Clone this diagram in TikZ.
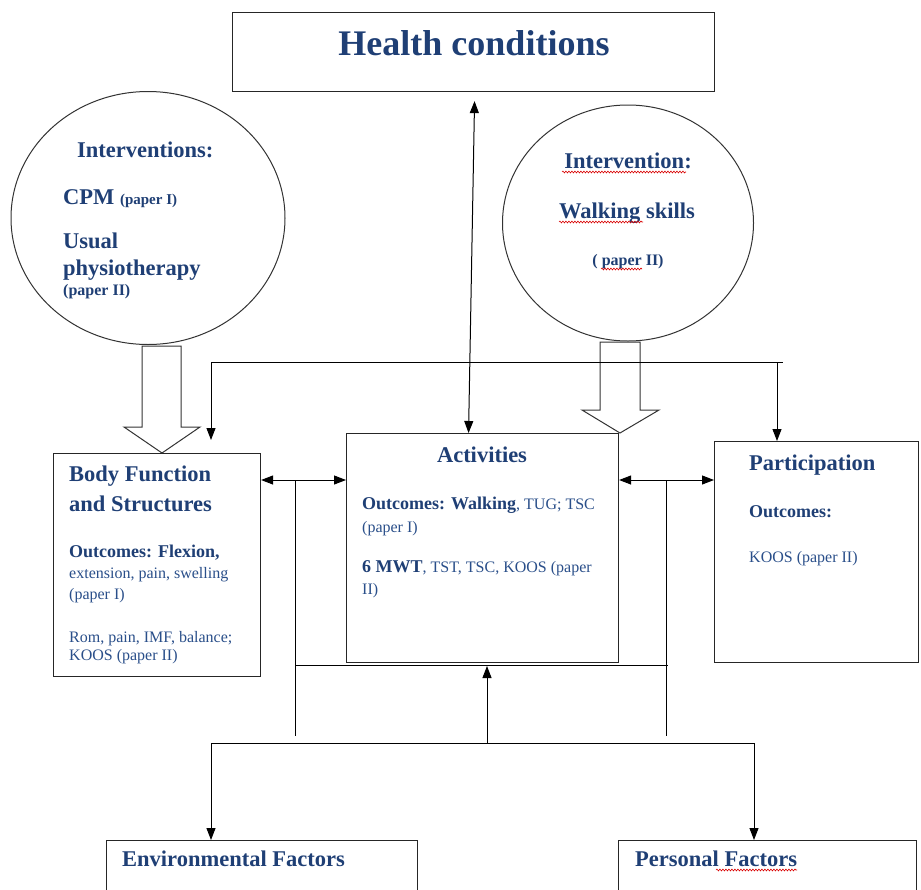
\documentclass[tikz,border=0pt]{standalone}
\usepackage{fontspec}
\setmainfont{Liberation Serif}
\usetikzlibrary{arrows.meta,decorations.pathmorphing,calc}
\definecolor{titleblue}{HTML}{1F3F75}
\definecolor{txtblue}{HTML}{2A4F8A}
\newcommand{\fsz}[1]{\fontsize{#1}{#1}\selectfont}
\begin{document}
\begin{tikzpicture}[x=1pt,y=-1pt,
  box/.style={draw=black!85,line width=1.1pt,rectangle,inner sep=0pt,anchor=north west},
  ell/.style={draw=black!80,line width=1pt},
  blockarrow/.style={draw=black!80,line width=1pt,line join=miter},
  conn/.style={draw=black,line width=1pt},
  tip/.style={-{Triangle[length=12pt,width=9pt]}},
  dbl/.style={{Triangle[length=12pt,width=9pt]}-{Triangle[length=12pt,width=9pt]}},
  ttl/.style={inner sep=0pt,text=titleblue,font=\bfseries\fsz{22.5}},
  sub/.style={inner sep=0pt,text=titleblue,font=\bfseries\fsz{18}},
  reg/.style={inner sep=0pt,text=txtblue,font=\fsz{16}},
  squig/.style={draw=red!85!black,line width=0.6pt,decorate,decoration={snake,amplitude=0.9pt,segment length=3pt}}
]
\useasboundingbox (0,0) rectangle (921,889);
\fill[white] (0,0) rectangle (921,889);

% boxes
\node[box,minimum width=482pt,minimum height=79pt] (hc) at (232,12) {};
\node[box,minimum width=207pt,minimum height=223pt] (body) at (53,453) {};
\node[box,minimum width=272pt,minimum height=229pt] (act) at (346,433) {};
\node[box,minimum width=204pt,minimum height=221pt] (part) at (714,441) {};
\node[box,minimum width=311pt,minimum height=70pt] (env) at (106,840) {};
\node[box,minimum width=298pt,minimum height=70pt] (pers) at (618,840) {};

% ellipses
\draw[ell] (148,218) ellipse [x radius=137, y radius=126.5];
\node[inner sep=0pt,minimum width=274pt,minimum height=253pt] (lc) at (148,218) {};
\draw[ell] (628,223) ellipse [x radius=125.5, y radius=118];
\node[inner sep=0pt,minimum width=251pt,minimum height=236pt] (rc) at (628,223) {};

% block arrows
\draw[blockarrow] (142,346) -- (142,427) -- (124,427) -- (162,453) -- (200,427) -- (181,427) -- (181,346) -- cycle;
\draw[blockarrow] (600,342) -- (600,410) -- (582,410) -- (620,433) -- (659,410) -- (640,410) -- (640,342) -- cycle;

% named coordinates
\coordinate (topL) at (211,362);
\coordinate (topR) at (783,362);
\coordinate (topRd) at (777,362);
\coordinate (vl) at (295,480);
\coordinate (vr) at (666,480);
\coordinate (vlb) at (295,736);
\coordinate (vrb) at (666,736);
\coordinate (midL) at (295,665);
\coordinate (midR) at (668,665);
\coordinate (botL) at (211,743);
\coordinate (botR) at (754,743);
\coordinate (botM) at (487,743);

% central double arrow
\draw[conn,dbl] ([xshift=1pt,yshift=-9pt]hc.south) -- ([xshift=-14pt]act.north);

% top distribution line
\draw[conn] (topL) -- (topR);
\draw[conn,tip] (topL) -- (211,440);
\draw[conn,tip] (topRd) -- (topRd |- part.north);

% horizontal double arrows
\draw[conn,dbl] (body.east |- vl) -- (act.west |- vl);
\draw[conn,dbl] (act.east |- vr) -- (part.west |- vr);

% verticals and bottom lines
\draw[conn] (vl) -- (vlb);
\draw[conn] (vr) -- (vrb);
\draw[conn] (midL) -- (midR);
\draw[conn] (botL) -- (botR);
\draw[conn,tip] (botM) -- (487,666);
\draw[conn,tip] (botL) -- (botL |- env.north);
\draw[conn,tip] (botR) -- (botR |- pers.north);

% texts
\node[inner sep=0pt,text=titleblue,font=\bfseries\fsz{36},anchor=base] (hct) at (474,55) {Health conditions};

\node[ttl,anchor=base west] (l1) at (77,157) {Interventions:};
\node[ttl,anchor=base west] (l2) at (63,204) {CPM {\fsz{15}(paper I)}};
\node[ttl,anchor=base west] (l3) at (63,248) {Usual};
\node[ttl,anchor=base west] (l4) at (63,275) {physiotherapy};
\node[ttl,anchor=base west,font=\bfseries\fsz{16}] (l5) at (63,295) {(paper II)};

\node[ttl,anchor=base] (r1) at (628,168) {Intervention:};
\node[ttl,anchor=base] (r2) at (627,218) {Walking skills};
\node[ttl,anchor=base,font=\bfseries\fsz{16}] (r3) at (628,265) {( paper II)};
\draw[squig] (562,172) -- (686,172);
\draw[squig] (559,222) -- (643,222);
\draw[squig] (601,269) -- (642,269);

\node[ttl,anchor=base west] (b1) at (69,481) {Body Function};
\node[ttl,anchor=base west] (b2) at (69,511) {and Structures};
\node[sub,anchor=base west] (b3) at (69,557) {Outcomes: Flexion,};
\node[reg,anchor=base west] (b4) at (69,578) {extension, pain, swelling};
\node[reg,anchor=base west] (b5) at (69,599) {(paper I)};
\node[reg,anchor=base west] (b6) at (69,642) {Rom, pain, IMF, balance;};
\node[reg,anchor=base west] (b7) at (69,660) {KOOS (paper II)};

\node[ttl,anchor=base] (a1) at (482,462) {Activities};
\node[sub,anchor=base west] (a2) at (362,509) {Outcomes: Walking{\mdseries\fsz{16}\color{txtblue}, TUG; TSC}};
\node[reg,anchor=base west] (a3) at (362,532) {(paper I)};
\node[sub,anchor=base west] (a4) at (362,572) {6 MWT{\mdseries\fsz{16}\color{txtblue}, TST, TSC, KOOS (paper}};
\node[reg,anchor=base west] (a5) at (362,594) {II)};

\node[ttl,anchor=base west] (p1) at (749,470) {Participation};
\node[sub,anchor=base west] (p2) at (749,517) {Outcomes:};
\node[reg,anchor=base west] (p3) at (749,562) {KOOS (paper II)};

\node[ttl,anchor=base west] (e1) at (122,866) {Environmental Factors};
\node[ttl,anchor=base west] (f1) at (635,866) {Personal Factors};
\draw[squig] (716,870) -- (797,870);
\end{tikzpicture}
\end{document}
